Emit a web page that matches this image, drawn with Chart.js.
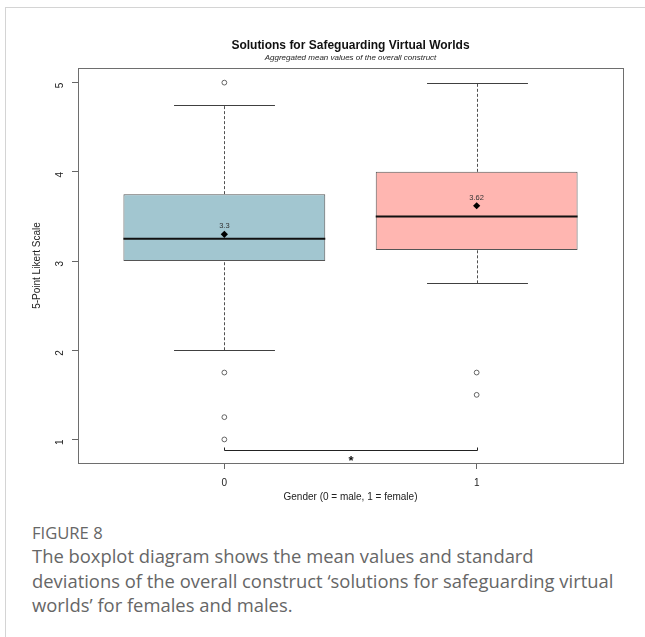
<!DOCTYPE html>
<html>
<head>
<meta charset="utf-8">
<script src="https://cdn.jsdelivr.net/npm/chart.js@4.4.1/dist/chart.umd.min.js"></script>
<style>
  html, body { margin: 0; padding: 0; background: #fff; }
  body { width: 645px; height: 637px; position: relative; overflow: hidden; }
  #frame { position: absolute; left: 5px; top: 7px; right: -2px; bottom: -2px;
           border-left: 1px solid #d4d4d4; border-top: 1px solid #d4d4d4; }
  #wrap { position: absolute; left: 7px; top: 9px; width: 638px; height: 500px; }
  #cap { position: absolute; left: 32px; top: 522px; font-family: 'Open Sans', sans-serif; color: #666; white-space: nowrap; }
  #cap .fig { font-size: 16.6px; line-height: 22px; }
  #cap .txt { font-size: 18.4px; line-height: 24.5px; }
</style>
</head>
<body>
<div id="frame"></div>
<div id="wrap"><canvas id="chart" width="638" height="500"></canvas></div>
<div id="cap">
  <div class="fig">FIGURE 8</div>
  <div class="txt">The boxplot diagram shows the mean values and standard<br>deviations of the overall construct ‘solutions for safeguarding virtual<br>worlds’ for females and males.</div>
</div>
<script>
// Groups on the x axis (0 = male, 1 = female)
const groups = [0, 1];
const groupLabels = ['0', '1'];

// Five-number summaries per group
const q1 = [3.0, 3.125];
const q3 = [3.75, 4.0];
const medians = [3.25, 3.5];
const whiskerLow = [2.0, 2.75];
const whiskerHigh = [4.75, 5.0];

// Group means (shown as diamonds with a label)
const means = [3.3, 3.62];

// Outlying responses per group
const outliers0 = [5, 1.75, 1.25, 1];
const outliers1 = [1.75, 1.5];

// Axis ticks
const yTicks = [1, 2, 3, 4, 5];

// Significance bracket between the two groups
const bracketFrom = 0;
const bracketTo = 1;
const bracketLevel = 0.885;
const bracketMark = '*';

const boxColors = ['#a2c6d0', '#ffb6b1'];
const FONT = "'Liberation Sans', Arial, sans-serif";

const boxData = groups.map((g, i) => ({ x: g, y: [q1[i], q3[i]] }));
const meanData = groups.map((g, i) => ({ x: g, y: means[i] }));
const outlierData = [
  ...outliers0.map(v => ({ x: groups[0], y: v })),
  ...outliers1.map(v => ({ x: groups[1], y: v }))
];

// Whiskers, caps, medians, mean labels, bracket and frame
const boxplotExtras = {
  id: 'boxplotExtras',
  beforeDatasetsDraw(chart) {
    const { ctx, scales: { x, y } } = chart;
    const bars = chart.getDatasetMeta(0).data;
    ctx.save();
    groups.forEach((g, i) => {
      const cx = Math.round(x.getPixelForValue(g)) + 0.5;
      const half = bars[i].width / 2;
      ctx.strokeStyle = '#505050';
      ctx.lineWidth = 1;
      ctx.setLineDash([3, 2]);
      ctx.beginPath();
      ctx.moveTo(cx, y.getPixelForValue(whiskerLow[i]));
      ctx.lineTo(cx, y.getPixelForValue(q1[i]));
      ctx.moveTo(cx, y.getPixelForValue(q3[i]));
      ctx.lineTo(cx, y.getPixelForValue(whiskerHigh[i]));
      ctx.stroke();
      ctx.setLineDash([]);
      ctx.strokeStyle = '#404040';
      ctx.beginPath();
      [whiskerLow[i], whiskerHigh[i]].forEach(v => {
        const py = Math.round(y.getPixelForValue(v)) + 0.5;
        ctx.moveTo(cx - half / 2, py);
        ctx.lineTo(cx + half / 2, py);
      });
      ctx.stroke();
    });
    ctx.restore();
  },
  afterDatasetDraw(chart, args) {
    if (args.index !== 0) return;
    const { ctx, scales: { y } } = chart;
    const bars = chart.getDatasetMeta(0).data;
    ctx.save();
    ctx.strokeStyle = '#111';
    ctx.lineWidth = 2;
    groups.forEach((g, i) => {
      const py = y.getPixelForValue(medians[i]);
      const half = bars[i].width / 2;
      ctx.beginPath();
      ctx.moveTo(bars[i].x - half, py);
      ctx.lineTo(bars[i].x + half, py);
      ctx.stroke();
    });
    ctx.restore();
  },
  afterDatasetsDraw(chart) {
    const { ctx, chartArea: a, scales: { x, y } } = chart;
    ctx.save();
    // mean labels
    ctx.fillStyle = '#333';
    ctx.font = '7.5px ' + FONT;
    ctx.textAlign = 'center';
    ctx.textBaseline = 'middle';
    groups.forEach((g, i) => {
      ctx.fillText(String(means[i]), x.getPixelForValue(g), y.getPixelForValue(means[i]) - 8);
    });
    // significance bracket
    const bx0 = Math.round(x.getPixelForValue(bracketFrom)) + 0.5;
    const bx1 = Math.round(x.getPixelForValue(bracketTo)) + 0.5;
    const by = Math.round(y.getPixelForValue(bracketLevel)) + 0.5;
    ctx.strokeStyle = '#222';
    ctx.lineWidth = 1;
    ctx.beginPath();
    ctx.moveTo(bx0, by - 3);
    ctx.lineTo(bx0, by);
    ctx.lineTo(bx1, by);
    ctx.lineTo(bx1, by - 3);
    ctx.stroke();
    ctx.fillStyle = '#111';
    ctx.font = 'bold 13px ' + FONT;
    ctx.fillText(bracketMark, (bx0 + bx1) / 2, by + 10.5);
    // plot frame
    ctx.strokeStyle = '#6e6e6e';
    ctx.lineWidth = 1;
    ctx.strokeRect(Math.round(a.left) + 0.5, Math.round(a.top) + 0.5,
                   Math.round(a.right - a.left), Math.round(a.bottom - a.top));
    ctx.restore();
  }
};

new Chart(document.getElementById('chart'), {
  type: 'scatter',
  data: {
    datasets: [
      {
        type: 'bar',
        data: boxData,
        backgroundColor: boxColors,
        borderColor: '#555',
        borderWidth: 1,
        borderSkipped: false,
        categoryPercentage: 0.8,
        barPercentage: 1.0,
        order: 3
      },
      {
        type: 'scatter',
        data: meanData,
        pointStyle: 'rectRot',
        radius: 3.6,
        backgroundColor: '#000',
        borderColor: '#000',
        borderWidth: 0,
        order: 1
      },
      {
        type: 'scatter',
        data: outlierData,
        pointStyle: 'circle',
        radius: 2.4,
        backgroundColor: 'rgba(255,255,255,0)',
        borderColor: '#555',
        borderWidth: 0.9,
        order: 2
      }
    ]
  },
  options: {
    responsive: false,
    animation: false,
    events: [],
    layout: { padding: { left: 0, right: 22, top: 29, bottom: 0 } },
    plugins: {
      legend: { display: false },
      tooltip: { enabled: false },
      title: {
        display: true,
        fullSize: false,
        text: 'Solutions for Safeguarding Virtual Worlds',
        color: '#111',
        font: { family: FONT, size: 12, weight: 'bold', lineHeight: 1.2 },
        padding: { top: 0, bottom: 0 }
      },
      subtitle: {
        display: true,
        fullSize: false,
        text: 'Aggregated mean values of the overall construct',
        color: '#222',
        font: { family: FONT, size: 8, style: 'italic', lineHeight: 1.2 },
        padding: { top: 1, bottom: 5 }
      }
    },
    scales: {
      x: {
        type: 'linear',
        min: -0.58,
        max: 1.58,
        offset: false,
        afterBuildTicks: s => { s.ticks = groups.map(v => ({ value: v })); },
        afterFit: s => { s.height = 46; },
        ticks: {
          callback: (v) => groupLabels[groups.indexOf(v)],
          color: '#222',
          font: { family: FONT, size: 10 },
          padding: 8,
          maxRotation: 0
        },
        grid: { offset: false, drawOnChartArea: false, drawTicks: true, tickLength: 6, color: '#666' },
        border: { display: false },
        title: {
          display: true,
          text: 'Gender (0 = male, 1 = female)',
          color: '#222',
          font: { family: FONT, size: 10 },
          padding: { top: 0, bottom: 6 }
        }
      },
      y: {
        type: 'linear',
        min: 0.736,
        max: 5.164,
        afterBuildTicks: s => { s.ticks = yTicks.map(v => ({ value: v })); },
        afterFit: s => { s.width = 71; },
        ticks: {
          color: '#222',
          font: { family: FONT, size: 10 },
          minRotation: 90,
          maxRotation: 90,
          padding: 12
        },
        grid: { drawOnChartArea: false, drawTicks: true, tickLength: 6, color: '#666' },
        border: { display: false },
        title: {
          display: true,
          text: '5-Point Likert Scale',
          color: '#222',
          font: { family: FONT, size: 10 },
          padding: { top: 24, bottom: 0 }
        }
      }
    }
  },
  plugins: [boxplotExtras]
});
</script>
</body>
</html>
